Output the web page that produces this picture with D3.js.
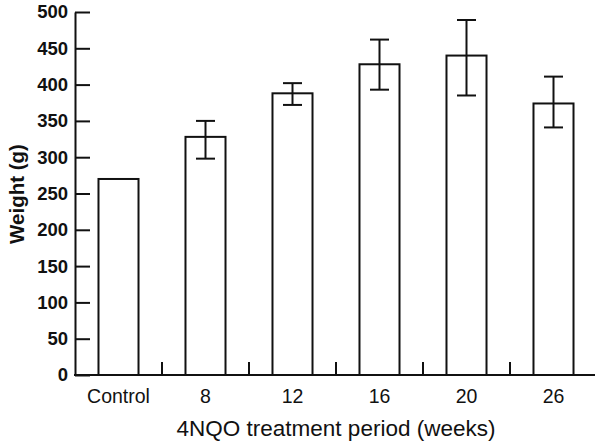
<!DOCTYPE html>
<html>
<head>
<meta charset="utf-8">
<script src="https://cdn.jsdelivr.net/npm/d3@7"></script>
<style>
  body { margin: 0; background: #fff; }
  svg { font-family: "Liberation Sans", Arial, sans-serif; }
</style>
</head>
<body>
<svg id="chart" width="596" height="441"></svg>
<script>
var categories = ['Control', '8', '12', '16', '20', '26'];
var means = [270, 328, 388, 428, 440, 374];
var errLow = [null, 298, 372, 393, 385, 341];
var errHigh = [null, 350, 402, 462, 489, 411];
var yTicks = [0, 50, 100, 150, 200, 250, 300, 350, 400, 450, 500];

var svg = d3.select('#chart');
var ink = '#111';

var x = d3.scaleBand()
    .domain(categories)
    .range([75, 597])
    .paddingInner(0.54)
    .paddingOuter(0.27);

var y = d3.scaleLinear()
    .domain([0, 500])
    .range([375, 12]);

// bars
svg.selectAll('rect.bar')
    .data(categories)
    .enter()
    .append('rect')
    .attr('class', 'bar')
    .attr('x', d => x(d))
    .attr('y', (d, i) => y(means[i]))
    .attr('width', x.bandwidth())
    .attr('height', (d, i) => y(0) - y(means[i]))
    .attr('fill', '#fff')
    .attr('stroke', ink)
    .attr('stroke-width', 2);

// error bars
var capHalf = 9.5;
var err = svg.selectAll('g.err')
    .data(categories.filter((d, i) => errLow[i] != null))
    .enter()
    .append('g')
    .attr('class', 'err')
    .attr('stroke', ink)
    .attr('stroke-width', 2);

err.append('line')
    .attr('x1', d => x(d) + x.bandwidth() / 2)
    .attr('x2', d => x(d) + x.bandwidth() / 2)
    .attr('y1', d => y(errLow[categories.indexOf(d)]))
    .attr('y2', d => y(errHigh[categories.indexOf(d)]));

err.append('line')
    .attr('x1', d => x(d) + x.bandwidth() / 2 - capHalf)
    .attr('x2', d => x(d) + x.bandwidth() / 2 + capHalf)
    .attr('y1', d => y(errHigh[categories.indexOf(d)]))
    .attr('y2', d => y(errHigh[categories.indexOf(d)]));

err.append('line')
    .attr('x1', d => x(d) + x.bandwidth() / 2 - capHalf)
    .attr('x2', d => x(d) + x.bandwidth() / 2 + capHalf)
    .attr('y1', d => y(errLow[categories.indexOf(d)]))
    .attr('y2', d => y(errLow[categories.indexOf(d)]));

// y axis, ticks point inward
var yAxis = svg.append('g')
    .attr('transform', 'translate(75,0)')
    .call(d3.axisLeft(y).tickValues(yTicks).tickSizeInner(-15).tickSizeOuter(0).tickPadding(7));

yAxis.select('.domain').attr('stroke', ink).attr('stroke-width', 2);
yAxis.selectAll('.tick line').attr('stroke', ink).attr('stroke-width', 2);
yAxis.selectAll('.tick text')
    .attr('fill', ink)
    .style('font-size', '18.5px')
    .style('font-weight', 'bold');

// x axis
var xAxis = svg.append('g')
    .attr('transform', 'translate(0,375)')
    .call(d3.axisBottom(x).tickSize(0).tickPadding(14.5));

xAxis.select('.domain')
    .attr('d', 'M74,0H595')
    .attr('stroke', ink)
    .attr('stroke-width', 2);
xAxis.selectAll('.tick text')
    .attr('fill', ink)
    .style('font-size', '19.5px');

// separator ticks between categories
var gap = (x.step() - x.bandwidth()) / 2;
svg.selectAll('line.sep')
    .data(categories.slice(1))
    .enter()
    .append('line')
    .attr('class', 'sep')
    .attr('x1', d => x(d) - gap)
    .attr('x2', d => x(d) - gap)
    .attr('y1', y(0))
    .attr('y2', y(0) - 13)
    .attr('stroke', ink)
    .attr('stroke-width', 2);

// titles
svg.append('text')
    .attr('x', 336)
    .attr('y', 436)
    .attr('text-anchor', 'middle')
    .attr('fill', ink)
    .style('font-size', '22.5px')
    .text('4NQO treatment period (weeks)');

svg.append('text')
    .attr('transform', 'translate(24,194) rotate(-90)')
    .attr('text-anchor', 'middle')
    .attr('fill', ink)
    .style('font-size', '20.5px')
    .style('font-weight', 'bold')
    .text('Weight (g)');
</script>
</body>
</html>
